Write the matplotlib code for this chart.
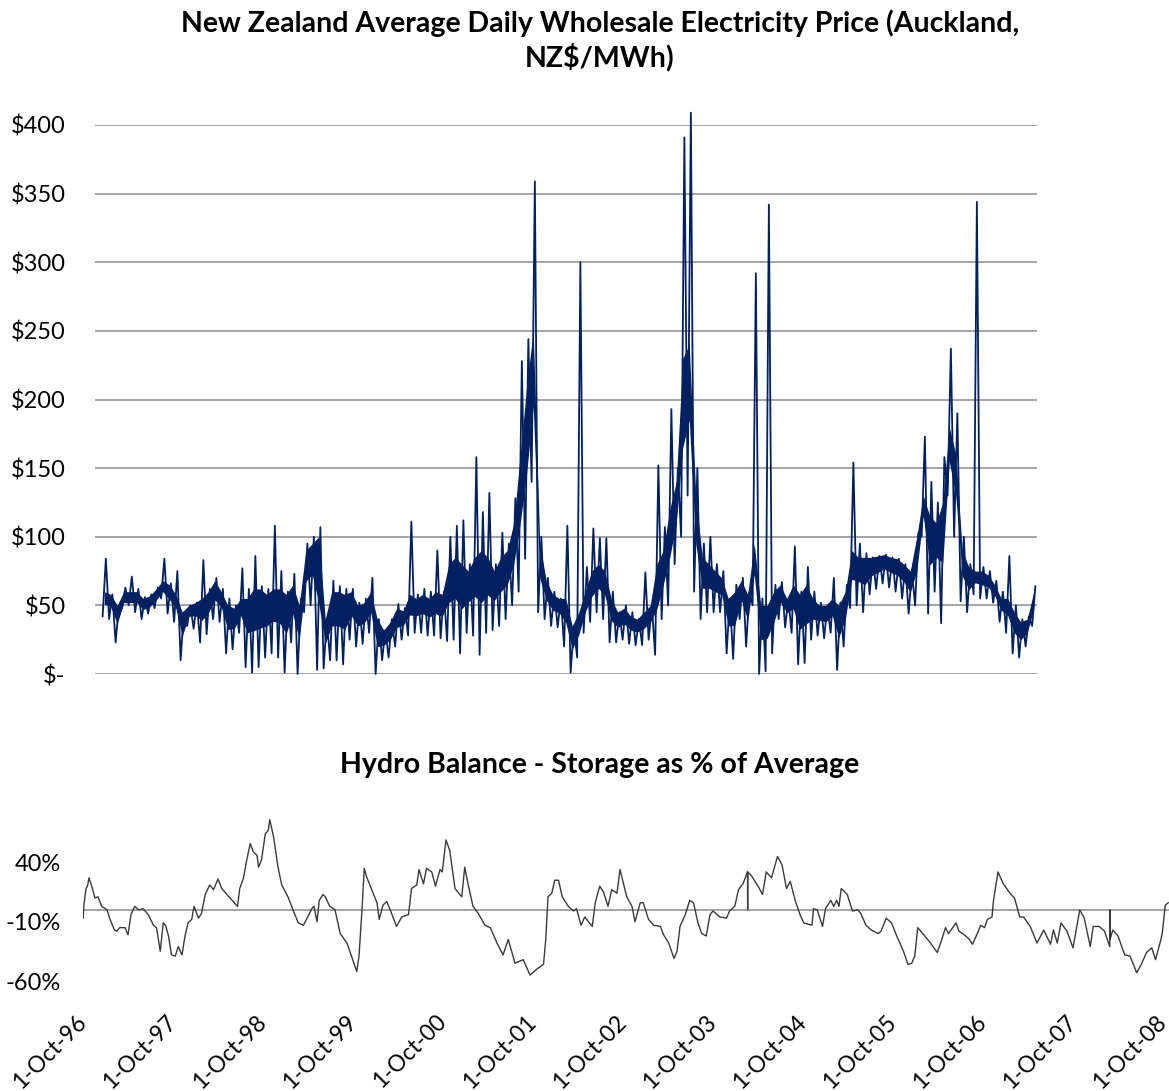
import numpy as np
import matplotlib
matplotlib.use('Agg')
import matplotlib.pyplot as plt

plt.rcParams['font.family'] = ['Lato', 'DejaVu Sans']

# monthly high / low of the daily Auckland price, Oct-96 .. Sep-08 (NZ$/MWh)
price_hi = [84, 58, 50, 63, 71, 62, 56, 58, 63, 84, 66, 75, 45, 50, 52, 83, 62, 70, 62, 55,
            50, 77, 62, 86, 64, 62, 108, 75, 60, 73, 55, 95, 100, 107, 40, 68, 64, 62, 62, 52,
            55, 70, 40, 32, 40, 51, 48, 111, 58, 62, 60, 90, 60, 100, 108, 112, 80, 158, 118, 132,
            80, 103, 95, 128, 228, 244, 359, 100, 70, 60, 55, 108, 35, 300, 78, 106, 99, 99, 60, 45,
            50, 45, 40, 74, 50, 152, 107, 193, 150, 391, 409, 150, 95, 100, 80, 75, 55, 65, 70, 60,
            292, 55, 342, 65, 67, 55, 93, 60, 78, 60, 52, 50, 70, 52, 65, 154, 95, 88, 85, 86,
            87, 85, 84, 80, 75, 103, 173, 140, 125, 158, 237, 190, 100, 80, 344, 78, 75, 68, 60, 86,
            50, 40, 42, 64]
price_lo = [42, 40, 23, 48, 50, 45, 40, 44, 48, 55, 44, 38, 10, 35, 33, 23, 29, 40, 38, 15,
            18, 30, 5, 1, 5, 12, 15, 12, 1, 23, 0, 45, 50, 3, 4, 10, 10, 7, 25, 20,
            22, 30, 0, 10, 12, 20, 25, 28, 30, 30, 28, 28, 26, 24, 25, 15, 30, 28, 14, 30,
            32, 35, 40, 50, 60, 84, 140, 45, 40, 35, 34, 20, 1, 12, 30, 38, 45, 40, 23, 23,
            25, 22, 21, 21, 25, 14, 40, 50, 80, 100, 130, 60, 40, 45, 45, 45, 15, 11, 40, 20,
            50, 0, 2, 15, 40, 34, 30, 7, 8, 25, 28, 26, 30, 3, 20, 48, 50, 45, 58, 62,
            66, 63, 60, 55, 44, 50, 100, 44, 60, 37, 130, 100, 53, 45, 58, 55, 55, 52, 38, 30,
            15, 12, 20, 35]
# upper edge of the dense daily band (single-day spikes left out)
price_band = [60, 58, 50, 60, 60, 60, 55, 57, 62, 68, 65, 58, 45, 50, 52, 55, 60, 68, 60, 50,
              48, 55, 55, 62, 62, 58, 62, 62, 58, 65, 50, 90, 95, 100, 40, 60, 60, 58, 60, 50,
              52, 60, 40, 32, 38, 48, 46, 58, 55, 58, 55, 60, 58, 80, 85, 80, 75, 85, 90, 85,
              75, 85, 90, 110, 160, 210, 250, 95, 68, 58, 55, 55, 35, 45, 60, 75, 80, 75, 55, 45,
              48, 42, 40, 45, 50, 80, 90, 120, 140, 230, 240, 130, 85, 80, 75, 70, 55, 60, 68, 58,
              95, 50, 50, 60, 65, 55, 65, 58, 65, 55, 50, 50, 55, 50, 60, 90, 85, 85, 85, 86,
              87, 85, 84, 80, 75, 100, 130, 115, 110, 125, 180, 160, 90, 78, 75, 75, 72, 65, 55, 55,
              45, 38, 40, 60]

# hydro storage vs average (%), read at months since 1-Oct-96
hydro_month = [0.04, 0.1, 0.4, 0.6, 0.8, 1.16, 1.6, 2.0, 2.5, 3.2, 3.6, 4.2, 4.5, 4.9, 5.6, 6.0, 6.4, 6.9,
               7.4, 8.0, 8.7, 9.4, 9.8, 10.3, 10.7, 11.0, 11.4, 11.8, 12.3, 12.7, 13.2, 13.6, 14.0, 14.5,
               14.8, 15.4, 15.8, 16.3, 16.9, 17.4, 18.0, 18.5, 19.6, 20.6, 20.9, 21.4, 21.8, 22.3, 22.7,
               23.2, 23.4, 23.8, 24.3, 24.7, 24.9, 25.4, 26.0, 26.5, 27.4, 28.0, 28.7, 29.4, 29.8, 30.5,
               30.8, 31.2, 31.5, 32.0, 32.3, 32.9, 33.6, 34.3, 35.2, 35.8, 36.5, 36.8, 37.2, 37.5, 37.8,
               38.5, 39.2, 39.5, 40.0, 40.5, 40.9, 41.8, 42.5, 43.4, 43.8, 44.5, 44.8, 45.4, 45.8, 46.5,
               47.0, 47.6, 47.9, 48.4, 48.9, 49.6, 50.5, 50.9, 51.4, 52.0, 52.7, 53.6, 54.3, 55.2, 56.0,
               56.7, 57.6, 58.7, 59.6, 60.5, 61.4, 61.7, 62.0, 62.5, 62.9, 63.4, 63.9, 64.7, 65.4, 65.8,
               66.4, 66.9, 67.9, 68.3, 68.9, 69.4, 70.0, 70.5, 71.2, 71.6, 72.5, 73.2, 73.6, 74.3, 74.7,
               75.4, 76.1, 77.0, 77.4, 78.1, 78.8, 79.2, 79.6, 80.3, 80.9, 81.4, 82.0, 82.5, 83.1, 83.6,
               84.0, 84.9, 85.8, 86.2, 86.9, 87.4, 88.0, 88.6, 88.62, 88.64, 89.1, 90.0, 90.6, 91.1, 91.8,
               92.6, 93.2, 93.8, 94.3, 95.0, 95.6, 96.1, 97.2, 97.4, 97.9, 98.6, 99.0, 99.7, 100.1, 100.5,
               100.8, 101.1, 101.9, 102.6, 103.3, 103.7, 104.4, 105.1, 106.0, 106.4, 107.1, 107.8, 108.5,
               109.4, 110.0, 110.5, 110.9, 111.3, 112.1, 113.0, 113.9, 114.5, 115.0, 115.4, 116.4, 116.8,
               117.5, 118.2, 118.6, 119.1, 119.7, 120.2, 120.6, 121.2, 121.4, 122.0, 122.7, 123.6, 124.2,
               124.9, 125.4, 126.3, 127.2, 128.1, 129.0, 129.4, 129.9, 130.4, 131.2, 132.0, 132.5, 132.9,
               133.5, 134.3, 134.7, 135.5, 136.2, 136.9, 136.92, 136.94, 137.3, 138.0, 138.9, 139.6, 140.5,
               141.1, 141.8, 142.5, 143.0, 143.6, 143.9, 144.3, 144.7]
hydro_pct = [-7, 3, 18, 20, 27, 20, 10, 11, 3, 0, -8, -17, -18, -15, -15, -21, -4, 3,
             0, 1, -4, -13, -15, -35, -11, -13, -22, -38, -39, -31, -38, -22, -11, -8,
             3, -7, -3, 13, 21, 17, 26, 18, 10, 3, 18, 27, 41, 56, 49,
             46, 36, 42, 64, 67, 76, 62, 36, 21, 10, 0, -11, -13, -8, 1,
             3, -10, 8, 13, 11, 3, 0, -20, -28, -39, -52, -39, 0, 35, 28,
             17, 6, -8, 4, 7, 1, -14, -6, -4, 18, 21, 34, 22, 35, 32,
             20, 34, 32, 59, 50, 18, 11, 36, 20, 3, -3, -13, -15, -28, -38,
             -25, -45, -42, -55, -50, -46, -25, 11, 14, 25, 25, 11, 3, -1, 1,
             -13, -6, -14, 6, 20, 15, 3, 17, 14, 34, 11, 3, -10, 6, 6,
             -8, -13, -14, -21, -28, -41, -35, -14, -4, 8, 6, -11, -20, -22, -4,
             -1, -6, -7, -1, 3, 17, 22, 32, 0, 32, 29, 20, 13, 32, 27,
             45, 38, 18, 24, 7, -4, -11, -13, 1, 0, -14, 1, 8, 3, 8,
             3, 18, 13, -1, 0, -3, -13, -17, -20, -18, -7, -11, -22,
             -35, -46, -45, -39, -15, -21, -28, -36, -25, -15, -20, -11, -18,
             -21, -25, -29, -22, -13, -15, -8, -6, 8, 32, 22, 14, 10,
             -6, -6, -14, -28, -17, -29, -17, -28, -11, -18, -32, -14, 0,
             -7, -31, -14, -14, -18, -31, 0, -25, -17, -22, -38, -39, -53,
             -46, -36, -32, -42, -28, -20, 4, 6]

date_labels = ['1-Oct-96', '1-Oct-97', '1-Oct-98', '1-Oct-99', '1-Oct-00', '1-Oct-01', '1-Oct-02',
               '1-Oct-03', '1-Oct-04', '1-Oct-05', '1-Oct-06', '1-Oct-07', '1-Oct-08']
price_ticks = [0, 50, 100, 150, 200, 250, 300, 350, 400]
price_labels = ['\\$-', '\\$50', '\\$100', '\\$150', '\\$200', '\\$250', '\\$300', '\\$350', '\\$400']
hydro_ticks = [-60, -10, 40]
hydro_labels = ['-60%', '-10%', '40%']

W, H = 1169, 1091
navy = '#002060'
fig = plt.figure(figsize=(W / 100, H / 100), dpi=100)


def box(x0, y0, x1, y1):
    # pixel box -> figure fraction
    return [x0 / W, 1 - y1 / H, (x1 - x0) / W, (y1 - y0) / H]


# top: price
ax1 = fig.add_axes(box(95, 125, 1037, 674))
k = np.arange(len(price_hi))
# dense part of the band, then the day-to-day swings on top
band = np.array(price_band)
mid = (np.array(price_lo) + band) / 2
ax1.fill_between(k + 0.5, np.minimum(mid, band - 8), band, color=navy, lw=0, zorder=2)
px = np.column_stack([k + 0.25, k + 0.75]).ravel()
py = np.column_stack([price_lo, price_hi]).ravel()
ax1.plot(px, py, color=navy, lw=1.3, clip_on=False, zorder=3)
ax1.set_xlim(-0.92, 144)
ax1.set_ylim(0, 400)
ax1.set_yticks(price_ticks, price_labels)
ax1.set_xticks([])
ax1.yaxis.grid(True, color='#8c8c8c', lw=1.1)
ax1.set_axisbelow(True)
for s in ax1.spines.values():
    s.set_visible(False)
ax1.tick_params(axis='y', length=0, labelsize=17, pad=21)

fig.text(600 / W, 1 - 40 / H, 'New Zealand Average Daily Wholesale Electricity Price (Auckland,\nNZ\\$/MWh)',
         ha='center', va='center', fontsize=20.5, fontweight='bold', linespacing=1.25)

# bottom: hydro
fig.text(600 / W, 1 - 765 / H, 'Hydro Balance - Storage as % of Average',
         ha='center', va='center', fontsize=20.5, fontweight='bold')

ax2 = fig.add_axes(box(83, 815, 1169, 981))
ax2.plot(hydro_month, hydro_pct, color='#3a3a3a', lw=1.0, zorder=3)
ax2.axhline(0, color='#8c8c8c', lw=1.1, zorder=2)
ax2.set_xlim(0, 144.8)
ax2.set_ylim(-60, 80)
ax2.set_yticks(hydro_ticks, hydro_labels)
ax2.set_xticks(np.arange(len(date_labels)) * 12, date_labels)
for s in ax2.spines.values():
    s.set_visible(False)
ax2.tick_params(axis='y', length=0, labelsize=17, pad=16)
ax2.tick_params(axis='x', length=0, labelsize=16.5, pad=27)
for lab in ax2.get_xticklabels():
    lab.set_rotation(45)
    lab.set_ha('right')
    lab.set_va('center')
    lab.set_rotation_mode('anchor')

fig.savefig('out.png', dpi=100)
